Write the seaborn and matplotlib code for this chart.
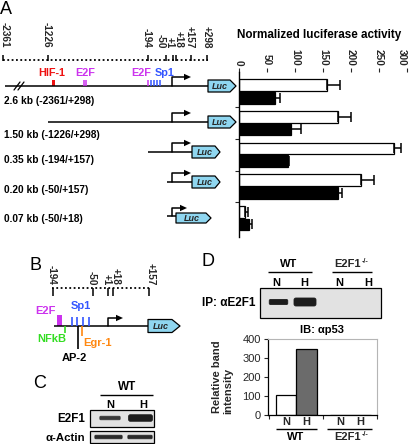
import numpy as np
import pandas as pd
import matplotlib
matplotlib.use("Agg")
import matplotlib.pyplot as plt
import seaborn as sns
from matplotlib.patches import Rectangle, Polygon, FancyBboxPatch

# ---------------- data ----------------
constructs = ["2.6 kb (-2361/+298)", "1.50 kb (-1226/+298)", "0.35 kb (-194/+157)",
              "0.20 kb (-50/+157)", "0.07 kb (-50/+18)"]
luc_normoxia = [158, 177, 277, 217, 11]
luc_normoxia_err = [22, 23, 13, 24, 5]
luc_hypoxia = [64, 92, 87, 177, 18]
luc_hypoxia_err = [10, 18, 2, 7, 5]
luc_ticks = [0, 50, 100, 150, 200, 250, 300]

ip_genotypes = ["WT", "E2F1-/-"]
ip_normoxia = [105, 0]
ip_hypoxia = [345, 0]
ip_ticks = [0, 100, 200, 300, 400]

scale_a_labels = ["-2361", "-1226", "-194", "-50", "+1", "+18", "+157", "+298"]
scale_b_labels = ["-194", "-50", "+1", "+18", "+157"]

# ---------------- style ----------------
sns.set_style("white")
plt.rcParams['font.family'] = ['Liberation Sans', 'DejaVu Sans']

C_HIF = '#ee1111'
C_E2F = '#cc33ee'
C_SP1 = '#3355ff'
C_NFKB = '#33dd22'
C_EGR = '#ff8811'
C_LUC = '#8fd6f0'
PX = 1.389

fig = plt.figure(figsize=(4.1, 4.44), dpi=100)
ax0 = fig.add_axes([0, 0, 1, 1], zorder=0)
ax0.set_xlim(0, 410)
ax0.set_ylim(444, 0)
ax0.axis('off')


def txt(x, yc, s, size=7.5, color='black', ha='left', weight='bold', style='normal'):
    ax0.text(x, yc + 0.358 * size * PX, s, fontsize=size, color=color, ha=ha,
             va='baseline', fontweight=weight, fontstyle=style)


def vlabel(x, ybottom, s, size=7.2):
    ax0.text(x, ybottom, s, rotation=270, rotation_mode='anchor', ha='right',
             va='center_baseline', fontsize=size, fontweight='bold')


def hline(x0, x1, y, lw=1.1, color='black', **kw):
    ax0.plot([x0, x1], [y, y], color=color, lw=lw, solid_capstyle='butt', **kw)


def vline(x, y0, y1, lw=1.1, color='black'):
    ax0.plot([x, x], [y0, y1], color=color, lw=lw, solid_capstyle='butt')


def promoter(x, y, h=9, l=18):
    ax0.plot([x, x, x + l - 6], [y, y - h, y - h], color='black', lw=1.1)
    ax0.add_patch(Polygon([[x + l - 7, y - h - 3.2], [x + l, y - h], [x + l - 7, y - h + 3.2]],
                          closed=True, color='black', lw=0))


def luc(x0, yc, w=23, h=12, p=6, size=6.5):
    pts = [[x0, yc - h / 2], [x0 + w, yc - h / 2], [x0 + w + p, yc],
           [x0 + w, yc + h / 2], [x0, yc + h / 2]]
    ax0.add_patch(Polygon(pts, closed=True, facecolor=C_LUC, edgecolor='black',
                          lw=0.9, joinstyle='round', zorder=3))
    ax0.text(x0 + w / 2 + 1, yc + 0.358 * size * PX, "Luc", fontsize=size, fontweight='bold',
             fontstyle='italic', ha='center', va='baseline', zorder=4)


def band(x0, x1, yc, h, color='#1c1c1c'):
    ax0.add_patch(FancyBboxPatch((x0 + h / 2, yc - h / 4), x1 - x0 - h, h / 2,
                                 boxstyle=f"round,pad={h/4}", facecolor=color,
                                 edgecolor=color, lw=0.6))


# ---------------- panel A diagram ----------------
txt(0, 8, "A", size=13, weight='normal')
hline(3, 208, 60, lw=1.3, linestyle=(0, (1, 1.4)))
a_tick_x = [3, 48, 148, 166, 173, 176, 191, 207]
a_label_x = [6, 48, 148, 162, 171, 180, 191, 208]
for x in a_tick_x:
    vline(x, 55, 61)
for x, s in zip(a_label_x, scale_a_labels):
    vlabel(x, 48, s)

row_y = [86, 122, 152, 182, 216]
row_start = [5, 48, 148, 167, 167]
row_end = [208, 208, 192, 192, 178]
label_c = [100, 134, 159, 189, 218]
for i in range(5):
    hline(row_start[i], row_end[i], row_y[i])
    txt(4, label_c[i], constructs[i], size=7.3)
for i in range(4):
    promoter(172, row_y[i], h=9, l=19)
promoter(172, row_y[4], h=8, l=15)
luc(208, 86, w=22, p=6)
luc(208, 122, w=22, p=6)
luc(192, 152, w=23, p=5)
luc(192, 182, w=23, p=5)
luc(176, 218, w=30, h=10, p=5)

# break marks
for xb in (17, 21):
    ax0.plot([xb - 3, xb + 3], [90, 82], color='black', lw=0.9)
ax0.add_patch(Rectangle((52, 80), 3.5, 6.5, color=C_HIF, lw=0))
vline(84, 80, 86, color=C_E2F)
vline(86.5, 80, 86, color=C_E2F)
vline(148.5, 80, 86, color=C_E2F)
for x in (151.5, 154.5, 157.5, 160.5):
    vline(x, 80, 86, color=C_SP1)
txt(52, 72, "HIF-1", size=7.8, color=C_HIF, ha='center')
txt(85, 72, "E2F", size=7.8, color=C_E2F, ha='center')
txt(141, 72, "E2F", size=7.8, color=C_E2F, ha='center')
txt(165, 72, "Sp1", size=7.8, color=C_SP1, ha='center')

txt(319, 33.5, "Normalized luciferase activity", size=8.4, ha='center')

# ---------------- panel A bar chart ----------------
axA = fig.add_axes([239 / 410, 1 - 237 / 444, 168 / 410, 165 / 444], zorder=2)
axA.patch.set_alpha(0)
dfA = pd.DataFrame({
    "construct": constructs * 2,
    "condition": ["N"] * len(constructs) + ["H"] * len(constructs),
    "activity": luc_normoxia + luc_hypoxia,
})
sns.barplot(data=dfA, y="construct", x="activity", hue="condition", orient="h",
            order=constructs, hue_order=["N", "H"],
            palette={"N": "white", "H": "black"}, edgecolor="black", linewidth=0.9,
            width=0.8, gap=0.08, errorbar=None, legend=False, ax=axA)
for cont, vals, errs in zip(axA.containers, [luc_normoxia, luc_hypoxia],
                            [luc_normoxia_err, luc_hypoxia_err]):
    ys = [b.get_y() + b.get_height() / 2 for b in cont]
    axA.errorbar(vals, ys, xerr=[np.zeros(len(errs)), errs], fmt='none', ecolor='black',
                 elinewidth=1.1, capsize=3.6, capthick=1.1, zorder=3)
axA.set_xlim(0, 300)
axA.set_ylim(4.6, -0.617)
axA.set_xlabel("")
axA.set_ylabel("")
axA.set_xticks(luc_ticks)
axA.set_xticklabels([str(t) for t in luc_ticks], fontsize=7.2, fontweight='bold')
axA.xaxis.tick_top()
axA.tick_params(axis='x', top=True, bottom=False, labeltop=True, labelbottom=False,
                length=3, width=0.8, direction='out', pad=1.5)
for lbl in axA.get_xticklabels():
    lbl.set_rotation(270)
    lbl.set_va('bottom')
    lbl.set_ha('center')
axA.get_xticklabels()[-1].set_ha('right')
axA.set_yticks([0.5, 1.5, 2.5, 3.5])
axA.set_yticklabels([])
axA.tick_params(axis='y', left=True, length=3, width=0.8, direction='out')
for side in ('top', 'right', 'bottom'):
    axA.spines[side].set_visible(False)
axA.spines['left'].set_linewidth(1.0)
axA.spines['left'].set_color('black')

# ---------------- panel B ----------------
txt(30, 264, "B", size=13, weight='normal')
hline(52, 150, 288, lw=1.3, linestyle=(0, (1, 1.4)))
b_tick_x = [53, 93, 108, 113, 149]
b_label_x = [53, 93, 108, 117, 152]
for x in b_tick_x:
    vline(x, 288, 296)
for x, s in zip(b_label_x, scale_b_labels):
    vlabel(x, 285, s)
hline(54, 149, 326)
ax0.add_patch(Rectangle((57, 315), 5, 11, color=C_E2F, lw=0))
for x in (72, 77, 83, 89):
    vline(x, 317, 326, lw=1.2, color=C_SP1)
vline(65, 326, 333, lw=1.2, color=C_NFKB)
vline(78, 326, 349, lw=1.2, color='black')
vline(82, 326, 336, lw=1.2, color=C_EGR)
promoter(108, 326, h=8, l=15)
luc(148, 326, w=24, h=13, p=8)
txt(35, 310, "E2F", size=8, color=C_E2F)
txt(71, 305, "Sp1", size=8, color=C_SP1)
txt(37, 338, "NFkB", size=8, color=C_NFKB)
txt(83, 342, "Egr-1", size=8, color=C_EGR)
txt(62, 357, "AP-2", size=8)

# ---------------- panel C ----------------
txt(33, 382, "C", size=13, weight='normal')
txt(127, 386, "WT", size=8.5, ha='center')
hline(100, 153, 395, lw=1.0)
txt(110, 404, "N", size=8, ha='center')
txt(143, 404, "H", size=8, ha='center')
ax0.add_patch(Rectangle((90, 410), 64, 17, facecolor='#e2e2e2', edgecolor='black', lw=0.9))
ax0.add_patch(Rectangle((90, 431), 64, 12, facecolor='#e2e2e2', edgecolor='black', lw=0.9))
band(99, 121, 418, 3.5, color='#3a3a3a')
band(127, 154, 418, 6.5)
band(94, 123, 437, 3.5, color='#2a2a2a')
band(127, 153, 437, 3.5, color='#2a2a2a')
txt(85, 418, "E2F1", size=8.4, ha='right')
txt(85, 437, "α-Actin", size=8.2, ha='right')

# ---------------- panel D ----------------
txt(202, 260, "D", size=13, weight='normal')


def e2f1_ko(xc, yc, size=8):
    t = ax0.text(xc - 4, yc + 0.358 * size * PX, "E2F1", fontsize=size, fontweight='bold',
                 ha='center', va='baseline')
    ax0.annotate("-/-", xy=(1, 1), xycoords=t, xytext=(0.5, 0.5), textcoords='offset points',
                 fontsize=size * 0.65, fontweight='bold', ha='left', va='top')


txt(289, 263, "WT", size=8, ha='center')
e2f1_ko(352, 263)
hline(268, 312, 272, lw=1.0)
hline(332, 372, 272, lw=1.0)
for x, s in zip([276, 304, 339, 368], ["N", "H", "N", "H"]):
    txt(x, 282, s, size=8, ha='center')
ax0.add_patch(Rectangle((260, 288), 121, 30, facecolor='#e2e2e2', edgecolor='black', lw=0.9))
band(268, 289, 302, 5)
band(292, 318, 302, 8)
txt(202, 302, "IP: αE2F1", size=8.5)
txt(322, 329, "IB: αp53", size=8, ha='center')

axD = fig.add_axes([268 / 410, 1 - 415 / 444, 109 / 410, 76 / 444], zorder=2)
dfD = pd.DataFrame({
    "genotype": ip_genotypes * 2,
    "condition": ["N"] * len(ip_genotypes) + ["H"] * len(ip_genotypes),
    "intensity": ip_normoxia + ip_hypoxia,
})
sns.barplot(data=dfD, x="genotype", y="intensity", hue="condition",
            order=ip_genotypes, hue_order=["N", "H"],
            palette={"N": "white", "H": "#6b6b6b"}, edgecolor="black", linewidth=0.9,
            width=0.76, errorbar=None, legend=False, ax=axD)
axD.set_ylim(0, 400)
axD.set_xlim(-0.52, 1.5)
axD.set_yticks(ip_ticks)
axD.set_yticklabels([str(t) for t in ip_ticks], fontsize=8)
axD.tick_params(axis='y', left=True, length=3, width=0.8, direction='out', pad=2)
centers = []
names = []
for cont, nm in zip(axD.containers, ["N", "H"]):
    for b in cont:
        centers.append(b.get_x() + b.get_width() / 2)
        names.append(nm)
order = np.argsort(centers)
axD.set_xticks([centers[i] for i in order])
axD.set_xticklabels([names[i] for i in order], fontsize=8, fontweight='bold')
axD.tick_params(axis='x', bottom=False, length=0, pad=1.5)
axD.set_xticks([-0.5, 0.5, 1.5], minor=True)
axD.tick_params(axis='x', which='minor', bottom=True, length=3, width=0.8, direction='out')
axD.set_xlabel("")
axD.set_ylabel("")
for side in ('left', 'bottom'):
    axD.spines[side].set_color('black')
    axD.spines[side].set_linewidth(0.9)
for side in ('top', 'right'):
    axD.spines[side].set_color('#b5b5b5')
    axD.spines[side].set_linewidth(0.8)

ax0.text(220, 413, "Relative band", rotation=90, rotation_mode='anchor', ha='left',
         va='baseline', fontsize=8, fontweight='bold')
ax0.text(231, 414, "intensity", rotation=90, rotation_mode='anchor', ha='left',
         va='baseline', fontsize=8, fontweight='bold')
hline(276, 317, 429, lw=1.0)
hline(327, 372, 429, lw=1.0)
txt(296, 436, "WT", size=8, ha='center')
e2f1_ko(352, 436)

fig.savefig("out.png", dpi=100)
